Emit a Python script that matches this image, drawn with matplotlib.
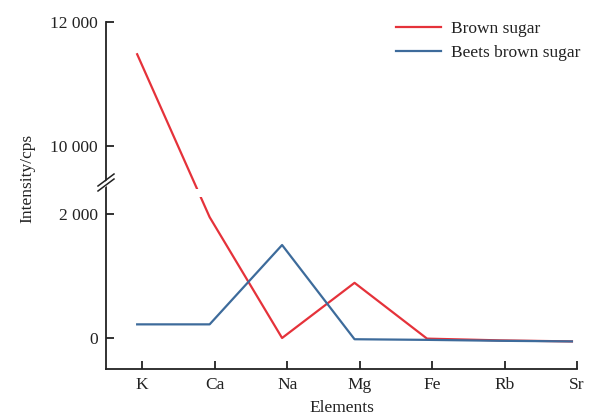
import numpy as np
import matplotlib
matplotlib.use("Agg")
import matplotlib.pyplot as plt
from matplotlib.lines import Line2D
from matplotlib.patches import Polygon

elements = ["K", "Ca", "Na", "Mg", "Fe", "Rb", "Sr"]
brown_sugar = [11480, 1950, 0, 890, -10, -38, -55]
beets_brown_sugar = [220, 220, 1500, -20, -30, -45, -55]
ytick_values = [0, 2000, 10000, 12000]
ytick_labels = ["0", "2 000", "10 000", "12 000"]

RED = "#e5323a"
BLUE = "#3d6b9b"

plt.rcParams["font.family"] = ["Liberation Serif", "DejaVu Serif"]
plt.rcParams["font.size"] = 12

# broken axis: compress the 2000..10000 range
LO, HI, SQ = 2000.0, 10000.0, 1097.0

def fwd(v):
    v = np.asarray(v, dtype=float)
    return np.where(v <= LO, v,
                    np.where(v >= HI, v - HI + LO + SQ,
                             LO + (v - LO) * SQ / (HI - LO)))

def inv(t):
    t = np.asarray(t, dtype=float)
    return np.where(t <= LO, t,
                    np.where(t >= LO + SQ, t - (LO + SQ) + HI,
                             LO + (t - LO) * (HI - LO) / SQ))

fig = plt.figure(figsize=(5.93, 4.17), dpi=100)
ax = fig.add_axes([106/593, 1 - 369/417, (577-106)/593, (369-22)/417])
ax.set_yscale("function", functions=(fwd, inv))

x = np.arange(len(elements))
ax.plot(x, brown_sugar, color=RED, lw=1.6, label="Brown sugar", zorder=2)
ax.plot(x, beets_brown_sugar, color=BLUE, lw=1.6, label="Beets brown sugar", zorder=2.2)

# gap in the line across the break
ax.axhspan(4000, 4950, xmin=0.02, xmax=1, color="white", zorder=2.4, lw=0)

ax.set_ylim(-500, 12000)
ax.set_xlim(-0.43, 6.07)
ax.set_yticks(ytick_values)
ax.set_yticklabels(ytick_labels)
ax.yaxis.set_minor_locator(matplotlib.ticker.NullLocator())
ax.set_xticks(x + 0.07)
ax.set_xticklabels(elements)

for s in ["top", "right"]:
    ax.spines[s].set_visible(False)
for s in ["left", "bottom"]:
    ax.spines[s].set_linewidth(1.3)
    ax.spines[s].set_color("#222222")
ax.tick_params(direction="in", length=6, width=1.3, color="#222222",
               labelsize=12.5, labelcolor="#222222", pad=6)

ax.set_xlabel("Elements", fontsize=12.5, color="#222222", labelpad=5)
ax.set_ylabel("Intensity/cps", fontsize=12.5, color="#222222")
ax.yaxis.set_label_coords(-0.15, 0.55)

# break marks on the y axis (in figure pixels)
def fp(px, py):
    return px / 593, 1 - py / 417

gap = Polygon([fp(100, 186), fp(113, 177), fp(113, 181), fp(100, 190)],
              closed=True, transform=fig.transFigure, color="white", zorder=5)
fig.add_artist(gap)
for dy in (0, 5):
    (x0, y0), (x1, y1) = fp(98, 186 + dy), fp(114, 174 + dy)
    fig.add_artist(Line2D([x0, x1], [y0, y1], transform=fig.transFigure,
                          color="#222222", lw=1.1, zorder=6))

ax.legend(loc="upper right", bbox_to_anchor=(584/593, 1 - 17/417),
          bbox_transform=fig.transFigure, frameon=False, fontsize=12.5,
          handlelength=2.6, handletextpad=0.6, labelspacing=0.5,
          borderaxespad=0, borderpad=0.2, labelcolor="#222222")

fig.savefig("out.png", dpi=100)
